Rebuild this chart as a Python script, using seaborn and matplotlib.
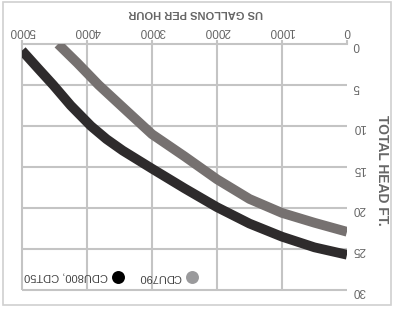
import matplotlib
matplotlib.use("Agg")
import matplotlib.pyplot as plt
import seaborn as sns
import pandas as pd
from matplotlib.patches import Rectangle

# pump curves (gph -> total head ft)
gph_cdu800 = [5000, 4750, 4520, 4250, 3940, 3700, 3450, 3000, 2500, 2000, 1500, 1000, 500, 0]
head_cdu800 = [0.8, 3.0, 5.0, 7.5, 10.0, 11.6, 13.0, 15.2, 17.6, 19.9, 21.9, 23.5, 24.8, 25.7]
gph_cdu790 = [4446, 4150, 3820, 3370, 3000, 2500, 2000, 1500, 1000, 500, 0]
head_cdu790 = [0, 2.3, 5.0, 8.3, 11.0, 13.7, 16.5, 18.9, 20.6, 21.8, 22.9]

series_names = ["CDU800, CDT50", "CDU790"]
line_colors = ["#2e2b2c", "#767170"]
dot_colors = ["#000000", "#9a9a9c"]
x_ticks = [0, 1000, 2000, 3000, 4000, 5000]
y_ticks = [0, 5, 10, 15, 20, 25, 30]
x_title = "US GALLONS PER HOUR"
y_title = "TOTAL HEAD FT."

df = pd.concat([
    pd.DataFrame({"gph": gph_cdu800, "head": head_cdu800, "pump": series_names[0]}),
    pd.DataFrame({"gph": gph_cdu790, "head": head_cdu790, "pump": series_names[1]}),
])

sns.set_style("white")
plt.rcParams["font.family"] = ["Liberation Sans", "DejaVu Sans"]

W, H = 393, 310
grid_col = "#c4c4c4"
fig = plt.figure(figsize=(W / 100, H / 100), dpi=100)
ax = fig.add_axes([22 / W, 20 / H, 325 / W, 246 / H])

sns.lineplot(data=df, x="gph", y="head", hue="pump",
             palette=dict(zip(series_names, line_colors)),
             linewidth=7, legend=False, ax=ax, zorder=3,
             solid_capstyle="butt", solid_joinstyle="round")

# the whole chart is shown turned upside down
ax.set_xlim(5000, 0)
ax.set_ylim(30, 0)
ax.set_xticks(x_ticks)
ax.set_yticks(y_ticks)
ax.xaxis.tick_top()
ax.yaxis.tick_right()
ax.set_xlabel("")
ax.set_ylabel("")
for side in ["left", "right", "bottom"]:
    ax.spines[side].set_visible(False)
ax.spines["top"].set_color(grid_col)
ax.spines["top"].set_linewidth(1.5)

ax.tick_params(axis="x", length=3, width=1.5, color=grid_col, pad=2,
               labelrotation=180, labelsize=8.5, labelcolor="#666666")
ax.tick_params(axis="y", length=0, pad=4,
               labelrotation=180, labelsize=8.5, labelcolor="#666666")

# grid (no line at 0 gph)
for xv in x_ticks[1:]:
    ax.axvline(xv, color=grid_col, linewidth=1.5, zorder=2, clip_on=False,
               solid_capstyle="butt")
for yv in y_ticks[1:]:
    ax.axhline(yv, color=grid_col, linewidth=1.5, zorder=2, clip_on=False,
               solid_capstyle="butt")

fig.text(196 / W, 1 - 12.5 / H, x_title, rotation=180, ha="center", va="center",
         fontsize=8, fontweight="bold", color="#666666")
fig.text(382 / W, 1 - 170 / H, y_title, rotation=-90, ha="center", va="center",
         fontsize=10, fontweight="bold", color="#666666")

# legend, upside down with the dot after the text
dot_x = [0.295, 0.523]
text_x = [0.265, 0.489]
for name, col, dx, tx in zip(series_names, dot_colors, dot_x, text_x):
    ax.scatter([dx], [0.053], s=87, color=col, transform=ax.transAxes,
               clip_on=False, zorder=5, linewidths=0)
    ax.text(tx, 0.053, name, rotation=180, ha="right", va="center",
            fontsize=8, color="#444444", transform=ax.transAxes)

fig.patches.append(Rectangle((3 / W, 5 / H), 388 / W, 303 / H,
                             transform=fig.transFigure, fill=False,
                             edgecolor="#d0d0d0", linewidth=1.2))

fig.savefig("out.png", dpi=100)
